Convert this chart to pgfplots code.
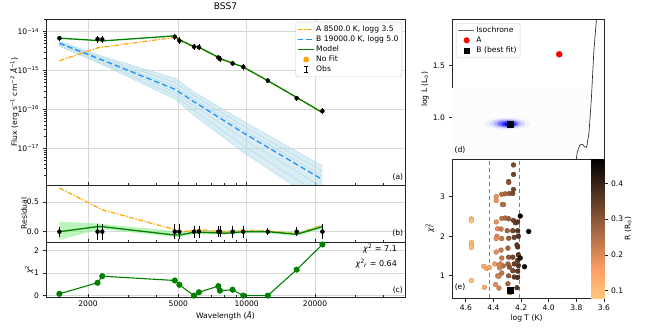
\documentclass[border=0pt]{standalone}
\usepackage{pgfplots}
\pgfplotsset{compat=1.18}
\usepackage{fontspec}
\setmainfont{DejaVu Sans}
\definecolor{mplorange}{HTML}{FFA500}
\definecolor{mplblue}{HTML}{1E90FF}
\definecolor{mplgreen}{HTML}{008000}
\definecolor{lblue}{HTML}{ADD8E6}
\definecolor{lgreen}{HTML}{90EE90}
\definecolor{gridc}{HTML}{D8D8D8}
\newcommand{\fs}{\fontsize{7.6}{9}\selectfont}
\pgfdeclareplotmark{ibar}{%
  \pgfpathmoveto{\pgfqpoint{0pt}{-\pgfplotmarksize}}\pgfpathlineto{\pgfqpoint{0pt}{\pgfplotmarksize}}%
  \pgfpathmoveto{\pgfqpoint{-0.6\pgfplotmarksize}{-\pgfplotmarksize}}\pgfpathlineto{\pgfqpoint{0.6\pgfplotmarksize}{-\pgfplotmarksize}}%
  \pgfpathmoveto{\pgfqpoint{-0.6\pgfplotmarksize}{\pgfplotmarksize}}\pgfpathlineto{\pgfqpoint{0.6\pgfplotmarksize}{\pgfplotmarksize}}%
  \pgfusepathqstroke}
\pgfplotsset{
  colormap={copperr}{rgb(0pt)=(1,0.7812,0.4975) rgb(1pt)=(1,0.625,0.398) rgb(5pt)=(0,0,0)},
  every axis/.append style={scale only axis, font=\fs,
    axis line style={line width=0.8pt, black!85},
    xtick align=inside, ytick align=outside,
    major tick length=3.5pt, minor tick length=2pt,
    tick style={black!85, line width=0.7pt},
    tick label style={font=\fs}, label style={font=\fs}},
}
\begin{document}
\begin{tikzpicture}
\path[use as bounding box] (0,0) rectangle (664pt,-332pt);

% ---------------- (a) SED ----------------
\begin{axis}[at={(46pt,-19pt)}, anchor=north west, width=359pt, height=166pt,
  xmode=log, xmin=1306, xmax=49800,
  xtick={2000,5000,10000,20000}, xticklabels={,,,},
  minor xtick={3000,4000,6000,7000,8000,9000,30000,40000},
  xtick pos=left, ytick pos=left, grid=major, major grid style={gridc, line width=1pt},
  ymode=log, ymin=1.15e-18, ymax=2.1e-14,
  ytick={1e-17,1e-16,1e-15,1e-14},
  yticklabels={10\textsuperscript{−17},10\textsuperscript{−16},10\textsuperscript{−15},10\textsuperscript{−14}},
  minor ytick={2e-18,3e-18,4e-18,5e-18,6e-18,7e-18,8e-18,9e-18,2e-17,3e-17,4e-17,5e-17,6e-17,7e-17,8e-17,9e-17,2e-16,3e-16,4e-16,5e-16,6e-16,7e-16,8e-16,9e-16,2e-15,3e-15,4e-15,5e-15,6e-15,7e-15,8e-15,9e-15,2e-14},
  ylabel={Flux (erg s\textsuperscript{−1} cm\textsuperscript{−2} \textit{Å}\textsuperscript{−1})},
  ylabel style={at={(axis description cs:-0.088,0.5)}, anchor=center},
  title={BSS7}, title style={font=\fontsize{9.1}{11}\selectfont, at={(0.5,1)}, anchor=south},
  legend cell align=left,
  legend style={at={(0.992,0.982)}, anchor=north east, draw=black!20, fill=white, rounded corners=1.5pt, font=\fs, row sep=-1.2pt, inner sep=1.5pt},
]
\addplot[fill=lblue, fill opacity=0.45, draw=none, forget plot] coordinates {
 (1496,5.62e-15) (2311,2.34e-15) (4820,6.31e-16) (5860,2.82e-16) (9660,5.01e-17) (21550,3.55e-18)
 (21550,3.55e-19) (9660,7.94e-18) (5860,7.08e-17) (4820,1.86e-16) (2311,1.41e-15) (1496,4.17e-15)} -- cycle;
\addplot[lblue, line width=0.4pt, forget plot] coordinates {(1496,5.62e-15) (2311,2.34e-15) (4820,6.31e-16) (5860,2.82e-16) (9660,5.01e-17) (21550,3.55e-18)};
\addplot[lblue, line width=0.4pt, forget plot] coordinates {(1496,5.37e-15) (2311,2.14e-15) (4820,4.90e-16) (5860,2.24e-16) (9660,3.80e-17) (21550,2.57e-18)};
\addplot[lblue, line width=0.4pt, forget plot] coordinates {(1496,5.13e-15) (2311,1.97e-15) (4820,3.89e-16) (5860,1.82e-16) (9660,2.99e-17) (21550,1.95e-18)};
\addplot[lblue, line width=0.4pt, forget plot] coordinates {(1496,4.79e-15) (2311,1.70e-15) (4820,2.79e-16) (5860,1.24e-16) (9660,1.78e-17) (21550,1.01e-18)};
\addplot[lblue, line width=0.4pt, forget plot] coordinates {(1496,4.47e-15) (2311,1.55e-15) (4820,2.29e-16) (5860,9.33e-17) (9660,1.19e-17) (21550,6.03e-19)};
\addplot[lblue, line width=0.4pt, forget plot] coordinates {(1496,4.17e-15) (2311,1.41e-15) (4820,1.86e-16) (5860,7.08e-17) (9660,7.94e-18) (21550,3.55e-19)};
\addplot[mplorange, dash pattern=on 5pt off 1.6pt on 1.3pt off 1.6pt, line width=1.2pt, forget plot] coordinates {
 (1496,1.78e-15) (2203,3.80e-15) (2311,3.98e-15) (4820,7.08e-15) (5050,5.89e-15) (5860,3.98e-15) (6160,3.80e-15)
 (7500,2.14e-15) (7620,2.00e-15) (8670,1.51e-15) (9660,1.20e-15) (12380,5.43e-16) (16600,2.02e-16) (21550,8.13e-17)};
\addplot[mplblue, dash pattern=on 5.5pt off 3pt, line width=1.3pt, forget plot] coordinates {
 (1496,5.01e-15) (2311,1.86e-15) (4820,3.31e-16) (5860,1.58e-16) (9660,2.51e-17) (21550,1.58e-18)};
\addplot[mplgreen, line width=1.3pt, forget plot] coordinates {
 (1496,6.76e-15) (2203,5.89e-15) (2311,5.75e-15) (4820,7.76e-15) (5050,6.17e-15) (5860,4.12e-15) (6160,3.98e-15)
 (7500,2.19e-15) (7620,2.04e-15) (8670,1.55e-15) (9660,1.23e-15) (12380,5.50e-16) (16600,2.04e-16) (21550,8.32e-17)};
\addplot[only marks, mark=none, forget plot,
  error bars/.cd, y dir=both, y explicit,
  error bar style={draw=black, solid, line width=0.8pt},
  error mark options={draw=black, mark size=1.8pt, line width=0.7pt}] coordinates {
 (1496,6.76e-15) +- (0,3.4e-16)
 (2203,6.44e-15) +- (0,6.4e-16)
 (2311,6.28e-15) +- (0,6.3e-16)
 (4820,7.34e-15) +- (0,6.2e-16)
 (5050,5.84e-15) +- (0,5.0e-16)
 (5860,4.08e-15) +- (0,2.7e-16)
 (6160,3.94e-15) +- (0,2.6e-16)
 (7500,2.15e-15) +- (0,1.3e-16)
 (7620,1.98e-15) +- (0,1.2e-16)
 (8670,1.52e-15) +- (0,1.0e-16)
 (9660,1.23e-15) +- (0,8.0e-17)
 (12380,5.50e-16) +- (0,1.1e-17)
 (16600,1.95e-16) +- (0,7.8e-18)
 (21550,9.09e-17) +- (0,7.7e-18)};
\addlegendimage{legend image code/.code={\draw[draw=mplorange, line width=1.2pt, dash pattern=on 5pt off 1.6pt on 1.3pt off 1.6pt] (0cm,0cm) -- (0.56cm,0cm);}}
\addlegendentry{A 8500.0 K, logg 3.5}
\addlegendimage{legend image code/.code={\draw[draw=mplblue, line width=1.3pt, dash pattern=on 5.5pt off 3pt] (0cm,0cm) -- (0.56cm,0cm);}}
\addlegendentry{B 19000.0 K, logg 5.0}
\addlegendimage{legend image code/.code={\draw[draw=mplgreen, line width=1.3pt, solid] (0cm,0cm) -- (0.56cm,0cm);}}
\addlegendentry{Model}
\addlegendimage{only marks, mark=*, mark size=2.6pt, mark options={color=mplorange, fill=mplorange}}
\addlegendentry{No Fit}
\addlegendimage{only marks, mark=ibar, mark size=3pt, mark options={color=black, solid, line width=0.9pt}}
\addlegendentry{Obs}
\node[font=\fs] at (axis description cs:0.98,0.048) {(a)};
\end{axis}

% ---------------- (b) residuals ----------------
\begin{axis}[at={(46pt,-185pt)}, anchor=north west, width=359pt, height=57pt,
  xmode=log, xmin=1306, xmax=49800,
  xtick={2000,5000,10000,20000}, xticklabels={,,,},
  minor xtick={3000,4000,6000,7000,8000,9000,30000,40000},
  xtick pos=left, ytick pos=left, grid=major, major grid style={gridc, line width=1pt},
  ymin=-0.175, ymax=0.79, ytick={0,0.5}, yticklabels={0.0,0.5},
  ylabel={Residual}, ylabel style={at={(axis description cs:-0.061,0.5)}, anchor=center}]
\addplot[fill=lgreen, fill opacity=0.6, draw=none] coordinates {
 (1496,0.17) (2203,0.14) (2311,0.13) (4820,0.01) (5050,0.0) (5860,0.03) (7500,0.02) (9660,0.03) (12380,0.02) (16600,-0.01) (21550,0.12)
 (21550,0.05) (16600,-0.07) (12380,-0.03) (9660,-0.03) (7500,-0.05) (5860,-0.04) (5050,-0.09) (4820,-0.09) (2311,0.04) (2203,0.03) (1496,-0.14)} -- cycle;
\addplot[mplorange, dash pattern=on 5pt off 1.6pt on 1.3pt off 1.6pt, line width=1.2pt] coordinates {
 (1496,0.74) (2203,0.41) (2311,0.37) (4820,0.035) (5050,-0.01) (5860,0.025) (6160,0.035) (7500,0.005) (7620,-0.01) (8670,0.007) (9660,0.024) (12380,0.013) (16600,-0.036) (21550,0.106)};
\addplot[mplgreen, line width=1.3pt] coordinates {
 (1496,0.0) (2203,0.085) (2311,0.085) (4820,-0.057) (5050,-0.057) (5860,-0.01) (6160,-0.01) (7500,-0.02) (7620,-0.03) (8670,-0.02) (9660,0.0) (12380,0.0) (16600,-0.045) (21550,0.085)};
\addplot[only marks, mark=none,
  error bars/.cd, y dir=both, y explicit,
  error bar style={draw=black, solid, line width=0.8pt},
  error mark options={draw=black, mark size=2.2pt, line width=0.8pt}] coordinates {
 (1496,0) +- (0,0.05)
 (2203,0) +- (0,0.10)
 (2311,0) +- (0,0.10)
 (4820,0) +- (0,0.085)
 (5050,0) +- (0,0.085)
 (5860,0) +- (0,0.065)
 (6160,0) +- (0,0.065)
 (7500,0) +- (0,0.06)
 (7620,0) +- (0,0.06)
 (8670,0) +- (0,0.065)
 (9660,0) +- (0,0.065)
 (12380,0) +- (0,0.02)
 (16600,0) +- (0,0.04)
 (21550,0) +- (0,0.085)};
\node[font=\fs] at (axis description cs:0.98,0.158) {(b)};
\end{axis}

% ---------------- (c) chi2 ----------------
\begin{axis}[at={(46pt,-242pt)}, anchor=north west, width=359pt, height=55pt,
  xmode=log, xmin=1306, xmax=49800,
  xtick={2000,5000,10000,20000}, xticklabels={2000,5000,10000,20000},
  minor xtick={3000,4000,6000,7000,8000,9000,30000,40000},
  xtick pos=left, ytick pos=left, grid=major, major grid style={gridc, line width=1pt},
  ymin=-0.06, ymax=2.37, ytick={0,1,2}, yticklabels={0,1,2},
  xlabel={Wavelength (\textit{Å})}, xlabel style={at={(axis description cs:0.5,-0.345)}, anchor=center},
  ylabel={\textit{χ}\textsuperscript{2}}, ylabel style={at={(axis description cs:-0.047,0.5)}, anchor=center}]
\addplot[mplgreen, line width=1.1pt, mark=*, mark size=2.5pt] coordinates {
 (1496,0.08) (2203,0.57) (2311,0.86) (4820,0.67) (5050,0.48) (5860,0.0) (6160,0.15) (7500,0.42) (7620,0.22) (8670,0.26) (9660,0.0) (12380,0.0) (16600,1.15) (21550,2.26)};
\node[font=\fontsize{8}{9}\selectfont, anchor=east, inner sep=0pt] at (axis description cs:0.978,0.875) {\textit{χ}\textsuperscript{2} = 7.1};
\node[font=\fontsize{8}{9}\selectfont, anchor=east, inner sep=0pt] at (axis description cs:0.978,0.60) {\textit{χ}\textsuperscript{2}\kern-0.1em\textsubscript{\textit{r}} = 0.64};
\node[font=\fs] at (axis description cs:0.98,0.127) {(c)};
\end{axis}

% ---------------- (d) HR diagram ----------------
\begin{axis}[at={(452pt,-19pt)}, anchor=north west, width=152pt, height=140pt,
  xmin=3.6, xmax=4.7, x dir=reverse, ymin=0.60, ymax=1.945,
  xtick=\empty, ytick={1.0,1.5}, yticklabels={1.0,1.5}, ytick pos=left,
  ylabel={log L (L\textsubscript{⊙})}, ylabel style={at={(axis description cs:-0.178,0.5)}, anchor=center},
  legend cell align=left,
  legend style={at={(0.026,0.971)}, anchor=north west, draw=black!20, fill=white, rounded corners=1.5pt, font=\fs, row sep=-1.2pt, inner sep=1.5pt}]
\addplot[fill=black!1, draw=none, forget plot] coordinates {(4.7,0.6) (4.7,1.28) (3.71,1.28) (3.71,0.6)} -- cycle;
\addplot[only marks, mark=*, color=blue!5, mark size=5.8pt, mark options={xscale=3.9}, forget plot] coordinates {(4.30,0.94)};
\addplot[only marks, mark=*, color=blue!14, mark size=4.7pt, mark options={xscale=3.8}, forget plot] coordinates {(4.30,0.94)};
\addplot[only marks, mark=*, color=blue!30, mark size=3.8pt, mark options={xscale=3.6}, forget plot] coordinates {(4.30,0.94)};
\addplot[only marks, mark=*, color=blue!55, mark size=3.0pt, mark options={xscale=3.4}, forget plot] coordinates {(4.295,0.938)};
\addplot[only marks, mark=*, color=blue!80, mark size=2.2pt, mark options={xscale=3.2}, forget plot] coordinates {(4.29,0.936)};
\addplot[only marks, mark=*, color=blue!80!black, mark size=1.5pt, mark options={xscale=3.0}, forget plot] coordinates {(4.285,0.935)};
\addplot[black!80, line width=0.7pt, forget plot] coordinates {
 (3.805,0.55) (3.801,0.596) (3.793,0.669) (3.775,0.734) (3.757,0.743) (3.740,0.717) (3.726,0.711) (3.709,0.846) (3.692,1.166) (3.673,1.647) (3.655,1.935) (3.652,2.0)};
\addplot[only marks, mark=*, mark size=3pt, red, forget plot] coordinates {(3.924,1.606)};
\addplot[only marks, mark=square*, mark size=2.8pt, black, forget plot] coordinates {(4.279,0.933)};
\addlegendimage{legend image code/.code={\draw[draw=black!60, line width=0.9pt, solid] (0cm,0cm) -- (0.56cm,0cm);}}
\addlegendentry{Isochrone}
\addlegendimage{only marks, mark=*, mark size=2.8pt, mark options={color=red, fill=red}}
\addlegendentry{A}
\addlegendimage{only marks, mark=square*, mark size=2.6pt, mark options={color=black, fill=black}}
\addlegendentry{B (best fit)}
\node[font=\fs] at (axis description cs:0.053,0.064) {(d)};
\end{axis}

% ---------------- (e) chi2_r vs logT ----------------
\begin{axis}[at={(452pt,-159pt)}, anchor=north west, width=152pt, height=139pt,
  xmin=3.6, xmax=4.7, x dir=reverse, ymin=0.44, ymax=3.95,
  xtick={4.6,4.4,4.2,4.0,3.8,3.6}, xticklabels={4.6,4.4,4.2,4.0,3.8,3.6},
  ytick={1,2,3}, yticklabels={1,2,3}, xtick pos=left, ytick pos=left, xtick align=outside,
  xlabel={log T (K)}, xlabel style={at={(axis description cs:0.49,-0.144)}, anchor=center},
  ylabel={\textit{χ}\rlap{\textsuperscript{2}}\textsubscript{\textit{r}}}, ylabel style={at={(axis description cs:-0.145,0.5)}, anchor=center},
  colormap name=copperr, point meta min=0.08, point meta max=0.468]
\addplot[gray, line width=0.8pt, dash pattern=on 4pt off 3pt] coordinates {(4.43,0.44) (4.43,3.95)};
\addplot[gray, line width=0.8pt, dash pattern=on 4pt off 3pt] coordinates {(4.21,0.44) (4.21,3.95)};
\addplot[scatter, only marks, mark=*, mark size=2.4pt, scatter src=explicit] table[x=t, y=c, meta=r] {
t c r
4.56 2.44 0.09
4.56 2.39 0.09
4.56 1.84 0.095
4.56 1.78 0.095
4.56 1.72 0.095
4.56 0.88 0.10
4.465 0.71 0.13
4.47 1.24 0.13
4.45 1.19 0.14
4.43 1.21 0.14
4.38 3.00 0.18
4.38 2.90 0.18
4.38 2.36 0.18
4.37 2.19 0.19
4.375 2.00 0.19
4.38 1.94 0.19
4.38 1.60 0.19
4.39 1.30 0.17
4.37 1.00 0.20
4.36 0.99 0.21
4.385 0.78 0.19
4.36 0.69 0.21
4.34 3.06 0.24
4.335 2.80 0.24
4.34 2.45 0.23
4.345 2.18 0.22
4.34 1.94 0.23
4.345 1.65 0.22
4.34 1.45 0.23
4.33 1.25 0.25
4.34 1.07 0.24
4.35 1.30 0.21
4.355 1.20 0.20
4.36 1.27 0.20
4.315 3.07 0.26
4.327 2.80 0.25
4.315 2.46 0.26
4.29 3.38 0.30
4.29 3.36 0.30
4.285 3.08 0.29
4.29 2.44 0.28
4.30 2.14 0.27
4.29 1.95 0.29
4.295 1.70 0.27
4.29 1.47 0.29
4.295 1.30 0.28
4.285 1.22 0.30
4.29 1.00 0.29
4.295 0.80 0.27
4.28 0.58 0.28
4.255 3.80 0.32
4.255 3.56 0.33
4.26 3.08 0.32
4.255 3.18 0.33
4.255 2.40 0.33
4.26 2.14 0.33
4.25 1.97 0.34
4.26 1.47 0.33
4.25 1.30 0.34
4.26 1.13 0.33
4.25 0.97 0.35
4.242 2.34 0.34
4.225 2.36 0.36
4.225 2.14 0.36
4.22 2.00 0.37
4.225 1.73 0.36
4.23 1.78 0.36
4.22 1.53 0.37
4.225 1.39 0.36
4.22 1.26 0.37
4.225 1.12 0.36
4.225 0.96 0.37
4.23 0.70 0.36
4.206 2.51 0.46
4.145 2.12 0.47
4.206 1.45 0.43
4.175 1.23 0.46
};
\addplot[only marks, mark=square*, mark size=3pt, black] coordinates {(4.279,0.64)};
\node[font=\fs] at (axis description cs:0.053,0.077) {(e)};
\end{axis}

% ---------------- colour bar ----------------
\begin{axis}[at={(591pt,-159pt)}, anchor=north west, width=13pt, height=139pt,
  xmin=0, xmax=1, ymin=0.08, ymax=0.468, xtick=\empty,
  ytick={0.1,0.2,0.3,0.4}, yticklabels={0.1,0.2,0.3,0.4},
  ytick pos=right, yticklabel pos=right,
  ylabel={R (R\textsubscript{⊙})}, ylabel style={at={(axis description cs:2.85,0.5)}, anchor=center},
  colormap name=copperr, point meta min=0.08, point meta max=0.468]
\addplot[patch, patch type=rectangle, shader=interp, point meta=explicit] coordinates {
 (0,0.08) [0.08] (1,0.08) [0.08] (1,0.468) [0.468] (0,0.468) [0.468]};
\end{axis}
\end{tikzpicture}
\end{document}
